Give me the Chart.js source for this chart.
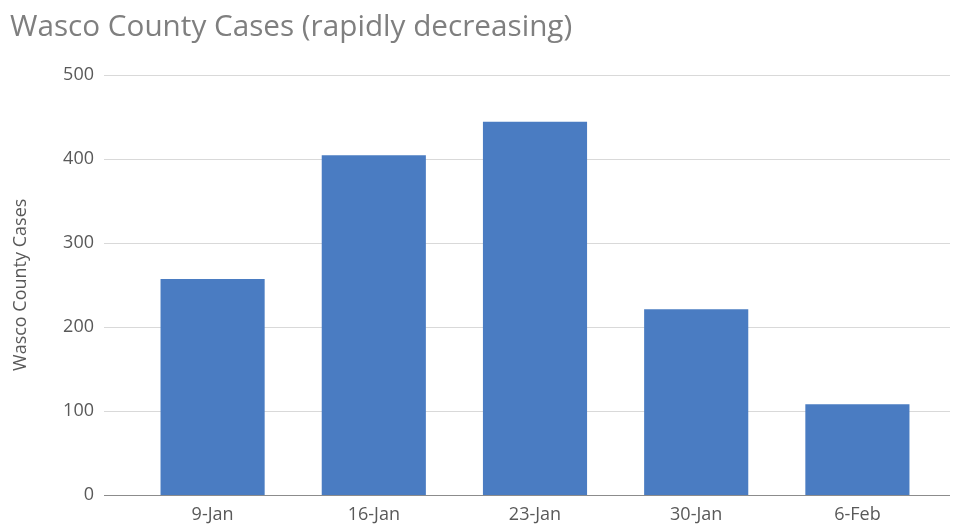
<!DOCTYPE html>
<html>
<head>
<meta charset="utf-8">
<script src="https://cdn.jsdelivr.net/npm/chart.js@4"></script>
<style>
  html, body { margin: 0; padding: 0; background: #fff; overflow: hidden; }
  canvas { display: block; }
</style>
</head>
<body>
<canvas id="cases-chart" width="961" height="525"></canvas>
<script>
const weeks = ['9-Jan', '16-Jan', '23-Jan', '30-Jan', '6-Feb'];
const cases = [257, 404, 444, 221, 108];
const yTicks = [0, 100, 200, 300, 400, 500];

// gridlines in the original run a bit past the bars on both sides
const wideGrid = {
    id: 'wideGrid',
    beforeDatasetsDraw(chart) {
        const ctx = chart.ctx;
        const y = chart.scales.y;
        ctx.save();
        ctx.lineWidth = 1;
        yTicks.forEach(t => {
            const py = Math.round(y.getPixelForValue(t)) + 0.5;
            ctx.strokeStyle = t === 0 ? '#8c8c8c' : '#d9d9d9';
            ctx.beginPath();
            ctx.moveTo(104, py);
            ctx.lineTo(950, py);
            ctx.stroke();
        });
        ctx.restore();
    }
};

new Chart(document.querySelector('#cases-chart').getContext('2d'), {
    type: 'bar',
    data: {
        labels: weeks,
        datasets: [{
            label: 'Wasco County Cases',
            data: cases,
            backgroundColor: '#4a7cc2',
            borderWidth: 0,
            barPercentage: 0.646,
            categoryPercentage: 1
        }]
    },
    options: {
        responsive: false,
        animation: false,
        layout: { padding: { left: 10, right: 23, top: 0, bottom: 0 } },
        plugins: {
            legend: { display: false },
            tooltip: { enabled: false },
            title: {
                display: true,
                text: 'Wasco County Cases (rapidly decreasing)',
                align: 'start',
                color: '#7f7f7f',
                font: { family: 'Open Sans', size: 29.7, weight: 'normal' },
                padding: { top: 10, bottom: 29 }
            }
        },
        scales: {
            x: {
                grid: { display: false, drawTicks: false },
                border: { display: false },
                ticks: { color: '#595959', font: { family: 'Open Sans', size: 18 }, padding: 9 },
                afterFit(scale) { scale.height = 30; }
            },
            y: {
                min: 0,
                max: 500,
                // hidden tick marks just push the labels left of the bars
                grid: { display: false, drawTicks: true, tickLength: 30 },
                border: { display: false },
                ticks: { stepSize: 100, color: '#595959', font: { family: 'Open Sans', size: 18 }, padding: 8 },
                title: {
                    display: true,
                    text: 'Wasco County Cases',
                    color: '#595959',
                    font: { family: 'Open Sans', size: 18 },
                    padding: { top: 0, bottom: 0 }
                },
                afterFit(scale) { scale.width = 122; }
            }
        }
    },
    plugins: [wideGrid]
});
</script>
</body>
</html>
